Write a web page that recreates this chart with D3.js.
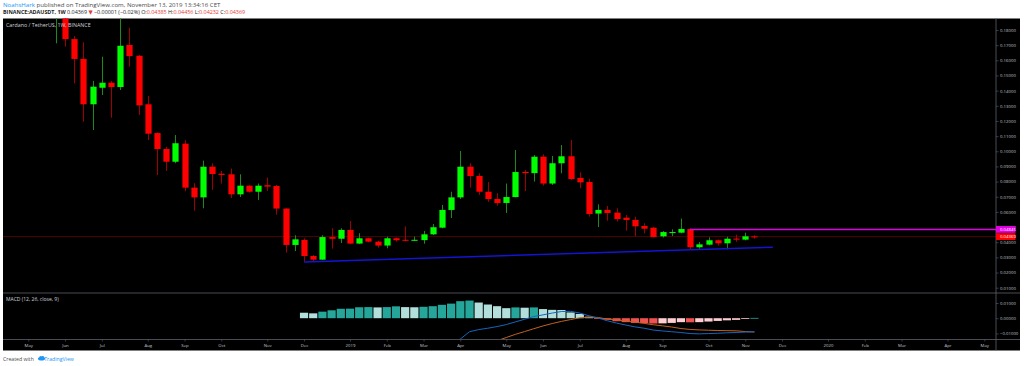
<!DOCTYPE html>
<html><head><meta charset="utf-8">
<script src="https://cdn.jsdelivr.net/npm/d3@7/dist/d3.min.js"></script>
<style>html,body{margin:0;padding:0;background:#fff;}svg{display:block;}</style>
</head><body>
<script>
// ---------- DATA ----------
const weeks = ["2018-04-16","2018-04-23","2018-04-30","2018-05-07","2018-05-14","2018-05-21","2018-05-28","2018-06-04","2018-06-11","2018-06-18","2018-06-25","2018-07-02","2018-07-09","2018-07-16","2018-07-23","2018-07-30","2018-08-06","2018-08-13","2018-08-20","2018-08-27","2018-09-03","2018-09-10","2018-09-17","2018-09-24","2018-10-01","2018-10-08","2018-10-15","2018-10-22","2018-10-29","2018-11-05","2018-11-12","2018-11-19","2018-11-26","2018-12-03","2018-12-10","2018-12-17","2018-12-24","2018-12-31","2019-01-07","2019-01-14","2019-01-21","2019-01-28","2019-02-04","2019-02-11","2019-02-18","2019-02-25","2019-03-04","2019-03-11","2019-03-18","2019-03-25","2019-04-01","2019-04-08","2019-04-15","2019-04-22","2019-04-29","2019-05-06","2019-05-13","2019-05-20","2019-05-27","2019-06-03","2019-06-10","2019-06-17","2019-06-24","2019-07-01","2019-07-08","2019-07-15","2019-07-22","2019-07-29","2019-08-05","2019-08-12","2019-08-19","2019-08-26","2019-09-02","2019-09-09","2019-09-16","2019-09-23","2019-09-30","2019-10-07","2019-10-14","2019-10-21","2019-10-28","2019-11-04","2019-11-11"];
const open  = [0.2500,0.3400,0.3200,0.3400,0.2800,0.2400,0.2000,0.2260,0.1740,0.1609,0.1310,0.1419,0.1452,0.1424,0.1701,0.1630,0.1310,0.1120,0.1015,0.0931,0.1050,0.0760,0.0696,0.0898,0.0852,0.0848,0.0716,0.0773,0.0733,0.0776,0.0771,0.0622,0.0382,0.0415,0.0309,0.0285,0.0434,0.0423,0.0481,0.0391,0.0426,0.0404,0.0378,0.0426,0.0416,0.0411,0.0414,0.0452,0.0496,0.0613,0.0696,0.0898,0.0837,0.0733,0.0685,0.0659,0.0698,0.0864,0.0856,0.0964,0.0787,0.0921,0.0967,0.0824,0.0797,0.0589,0.0613,0.0595,0.0562,0.0547,0.0507,0.0496,0.0439,0.0465,0.0463,0.0487,0.0367,0.0384,0.0413,0.0393,0.0424,0.0417,0.04385];
const high  = [0.3600,0.3800,0.3900,0.3500,0.2900,0.2500,0.2450,0.2300,0.1760,0.1719,0.1464,0.1624,0.1464,0.1900,0.1815,0.1635,0.1365,0.1125,0.1030,0.1107,0.1074,0.0789,0.0938,0.0921,0.0870,0.0886,0.0848,0.0776,0.0787,0.0826,0.0778,0.0625,0.0446,0.0426,0.0316,0.0446,0.0492,0.0492,0.0540,0.0459,0.0429,0.0410,0.0437,0.0430,0.0505,0.0437,0.0474,0.0520,0.0646,0.0733,0.1002,0.0921,0.0855,0.0797,0.0723,0.0787,0.1008,0.0877,0.0975,0.0980,0.0969,0.1041,0.1074,0.0861,0.0819,0.0650,0.0639,0.0624,0.0580,0.0568,0.0525,0.0501,0.0474,0.0485,0.0556,0.0492,0.0401,0.0432,0.0418,0.0436,0.0450,0.0463,0.04456];
const low   = [0.2400,0.2900,0.3000,0.2700,0.2300,0.1950,0.1712,0.1690,0.1448,0.1195,0.1140,0.1371,0.1221,0.1404,0.1558,0.1240,0.1074,0.0844,0.0870,0.0921,0.0736,0.0608,0.0624,0.0745,0.0787,0.0692,0.0698,0.0728,0.0679,0.0738,0.0582,0.0331,0.0342,0.0272,0.0272,0.0283,0.0358,0.0395,0.0388,0.0388,0.0400,0.0364,0.0360,0.0404,0.0406,0.0409,0.0390,0.0448,0.0492,0.0560,0.0685,0.0760,0.0712,0.0667,0.0641,0.0593,0.0696,0.0738,0.0800,0.0773,0.0778,0.0855,0.0811,0.0756,0.0569,0.0500,0.0542,0.0536,0.0476,0.0439,0.0459,0.0431,0.0431,0.0441,0.0459,0.0353,0.0357,0.0380,0.0377,0.0353,0.0402,0.0413,0.04232];
const close = [0.3400,0.3200,0.3400,0.2800,0.2400,0.2000,0.2260,0.1740,0.1609,0.1310,0.1426,0.1452,0.1424,0.1696,0.1628,0.1303,0.1116,0.1015,0.0931,0.1053,0.0760,0.0696,0.0898,0.0850,0.0844,0.0716,0.0773,0.0733,0.0773,0.0767,0.0622,0.0382,0.0419,0.0309,0.0285,0.0434,0.0423,0.0481,0.0391,0.0426,0.0404,0.0378,0.0426,0.0413,0.0410,0.0416,0.0452,0.0499,0.0613,0.0696,0.0898,0.0837,0.0733,0.0685,0.0659,0.0698,0.0863,0.0856,0.0964,0.0787,0.0921,0.0967,0.0817,0.0795,0.0586,0.0613,0.0593,0.0553,0.0547,0.0505,0.0489,0.0434,0.0467,0.0467,0.0487,0.0367,0.0386,0.0413,0.0393,0.0423,0.0417,0.0439,0.04369];

// MACD (12, 26, close, 9) from week of 2018-12-03 onward
const macdStart = "2018-12-03";
const macdLine = [-0.0300,-0.0290,-0.0275,-0.0262,-0.0250,-0.0240,-0.0232,-0.0225,-0.0222,-0.0218,-0.0215,-0.0212,-0.0210,-0.0206,-0.0198,-0.0182,-0.0164,-0.0137,-0.0089,-0.0075,-0.0066,-0.0055,-0.0042,-0.0024,-0.0007,0.0011,0.0022,0.0034,0.0044,0.0045,0.0034,0.0016,0.0001,-0.0017,-0.0032,-0.0045,-0.0057,-0.0066,-0.0078,-0.0084,-0.0089,-0.0094,-0.0101,-0.0103,-0.0101,-0.0099,-0.0096,-0.0094,-0.0091,-0.0089];
const signalLine = [-0.0336,-0.0322,-0.0318,-0.0314,-0.0312,-0.0303,-0.0300,-0.0295,-0.0293,-0.0291,-0.0290,-0.0285,-0.0282,-0.0280,-0.0275,-0.0268,-0.0258,-0.0240,-0.0215,-0.0190,-0.0168,-0.0148,-0.0127,-0.0106,-0.0088,-0.0069,-0.0051,-0.0035,-0.0021,-0.0009,0.0003,0.0006,0.0005,-0.0006,-0.0012,-0.0019,-0.0026,-0.0034,-0.0043,-0.0050,-0.0058,-0.0068,-0.0074,-0.0077,-0.0079,-0.0081,-0.0082,-0.0083,-0.0088,-0.0091];
const histogram = [0.0036,0.0032,0.0043,0.0052,0.0062,0.0063,0.0072,0.0073,0.0071,0.0073,0.0078,0.0073,0.0072,0.0075,0.0079,0.0088,0.0096,0.0112,0.0116,0.0103,0.0090,0.0079,0.0066,0.0071,0.0069,0.0071,0.0060,0.0055,0.0054,0.0038,0.0028,0.0010,-0.0005,-0.0010,-0.0020,-0.0026,-0.0031,-0.0032,-0.0035,-0.0034,-0.0031,-0.0026,-0.0027,-0.0026,-0.0022,-0.0018,-0.0014,-0.0011,-0.0004,0.0002];

// Drawings
const trendLine = [{date:"2018-12-03", price:0.0270},{date:"2019-11-25", price:0.0367}];
const levelLine = {date:"2019-09-23", price:0.04845};
const lastPrice = 0.04369;

// Axis ticks
const priceTicks = [0.18,0.17,0.16,0.15,0.14,0.13,0.12,0.11,0.10,0.09,0.08,0.07,0.06,0.05,0.04,0.03,0.02,0.01];
const macdTicks = [0.01,0,-0.01];
const timeTickDates = ["2018-05-07","2018-06-04","2018-07-02","2018-08-06","2018-09-03","2018-10-01","2018-11-05","2018-12-03","2019-01-07","2019-02-04","2019-03-04","2019-04-01","2019-05-06","2019-06-03","2019-07-01","2019-08-05","2019-09-02","2019-10-07","2019-11-04","2019-12-02","2020-01-06","2020-02-03","2020-03-02","2020-04-06","2020-05-04"];
const timeTickLabels = ["May","Jun","Jul","Aug","Sep","Oct","Nov","Dec","2019","Feb","Mar","Apr","May","Jun","Jul","Aug","Sep","Oct","Nov","Dec","2020","Feb","Mar","Apr","May"];

// ---------- LAYOUT ----------
const W = 1024, H = 366;
const L = 3, R = 1020, AX = 996;
const TOP = 18.5, SEP1 = 293, SEP2 = 339.5, BOT = 350.5;
const FONT = "'Open Sans', 'DejaVu Sans', sans-serif";
const axisCol = "#c3c6ce", lineCol = "#5d606b";

const parse = d3.utcParse("%Y-%m-%d");
const x = d3.scaleUtc().domain([parse("2019-01-07"), parse("2020-01-06")]).range([350, 828]);
const y = d3.scaleLinear().domain([0.01, 0.18]).range([287.7, 30]);
const ym = d3.scaleLinear().domain([-0.01, 0.01]).range([333.4, 303]);

const svg = d3.select("body").append("svg").attr("width", W).attr("height", H).attr("font-family", FONT);
svg.append("rect").attr("width", W).attr("height", H).attr("fill", "#fff");

// header
const h1 = svg.append("text").attr("x", 3).attr("y", 7.2).attr("font-size", 6.1).attr("fill", "#4a4a4a");
h1.append("tspan").attr("fill", "#2196f3").text("NoahsHark");
h1.append("tspan").text(" published on TradingView.com, November 13, 2019 13:34:16 CET");
const h2 = svg.append("text").attr("x", 3).attr("y", 14.4).attr("font-size", 5.4).attr("fill", "#222");
h2.append("tspan").attr("font-weight", "bold").text("BINANCE:ADAUSDT, 1W");
h2.append("tspan").text(" 0.04369 ");
h2.append("tspan").attr("fill", "#e53935").text("▼");
h2.append("tspan").text(" −0.00001 (−0.02%) O:");
h2.append("tspan").attr("fill", "#e53935").text("0.04385");
h2.append("tspan").text(" H:");
h2.append("tspan").attr("fill", "#e53935").text("0.04456");
h2.append("tspan").text(" L:");
h2.append("tspan").attr("fill", "#e53935").text("0.04232");
h2.append("tspan").text(" C:");
h2.append("tspan").attr("fill", "#e53935").text("0.04369");

// black chart area
svg.append("rect").attr("x", L).attr("y", TOP).attr("width", R - L).attr("height", BOT - TOP).attr("fill", "#000");

const defs = svg.append("defs");
defs.append("clipPath").attr("id", "cp").append("rect").attr("x", L).attr("y", TOP).attr("width", AX - L).attr("height", SEP1 - TOP);
defs.append("clipPath").attr("id", "cm").append("rect").attr("x", L).attr("y", SEP1 + 0.5).attr("width", AX - L).attr("height", SEP2 - SEP1 - 1);

// ---------- PRICE PANE ----------
const gp = svg.append("g").attr("clip-path", "url(#cp)");
// last price line
gp.append("line").attr("x1", L).attr("x2", AX).attr("y1", y(lastPrice)).attr("y2", y(lastPrice))
  .attr("stroke", "#4d0505").attr("stroke-width", 1);

const candles = weeks.map((d, i) => ({date: parse(d), o: open[i], h: high[i], l: low[i], c: close[i]}));
const bw = 6.2;
const cg = gp.selectAll("g.c").data(candles).join("g");
cg.append("line")
  .attr("x1", d => Math.round(x(d.date)) + 0.5).attr("x2", d => Math.round(x(d.date)) + 0.5)
  .attr("y1", d => y(d.h)).attr("y2", d => y(d.l))
  .attr("stroke", d => d.c >= d.o ? "#1d8a1d" : "#a00000").attr("stroke-width", 1);
cg.append("rect")
  .attr("x", d => Math.round(x(d.date)) + 0.5 - bw / 2)
  .attr("width", bw)
  .attr("y", d => y(Math.max(d.o, d.c)))
  .attr("height", d => Math.max(1, Math.abs(y(d.o) - y(d.c))))
  .attr("fill", d => d.c >= d.o ? "#00ff00" : "#ff0000");

// trend line
gp.append("line")
  .attr("x1", x(parse(trendLine[0].date))).attr("y1", y(trendLine[0].price))
  .attr("x2", x(parse(trendLine[1].date))).attr("y2", y(trendLine[1].price))
  .attr("stroke", "#1414d2").attr("stroke-width", 1.4);
// level line
gp.append("line")
  .attr("x1", x(parse(levelLine.date))).attr("x2", AX)
  .attr("y1", y(levelLine.price)).attr("y2", y(levelLine.price))
  .attr("stroke", "#e000e0").attr("stroke-width", 1.5);

svg.append("text").attr("x", 6).attr("y", 26.8).attr("font-size", 5.3).attr("fill", "#d1d4dc")
  .text("Cardano / TetherUS, 1W, BINANCE");

// ---------- MACD PANE ----------
const gm = svg.append("g").attr("clip-path", "url(#cm)");
const ms = parse(macdStart);
const mDates = histogram.map((v, i) => d3.utcWeek.offset(ms, i));
gm.selectAll("rect.h").data(histogram).join("rect")
  .attr("x", (v, i) => x(mDates[i]) - 4.1)
  .attr("width", 8.2)
  .attr("y", v => Math.min(ym(v), ym(0)))
  .attr("height", v => Math.max(0.8, Math.abs(ym(v) - ym(0))))
  .attr("fill", (v, i) => {
    const p = i > 0 ? histogram[i - 1] : v + 1;
    if (v >= 0) return v > p ? "#26a69a" : "#b2dfdb";
    return v < p ? "#ef5350" : "#ffcdd2";
  });
const lineGen = d3.line().x((v, i) => x(mDates[i])).y(v => ym(v));
gm.append("path").datum(signalLine).attr("d", lineGen).attr("fill", "none").attr("stroke", "#c2611e").attr("stroke-width", 1);
gm.append("path").datum(macdLine).attr("d", lineGen).attr("fill", "none").attr("stroke", "#1565c0").attr("stroke-width", 1);

svg.append("text").attr("x", 6).attr("y", 300.5).attr("font-size", 5).attr("fill", "#d1d4dc")
  .text("MACD (12, 26, close, 9)");

// ---------- SEPARATORS ----------
svg.append("line").attr("x1", L).attr("x2", R).attr("y1", SEP1).attr("y2", SEP1).attr("stroke", lineCol).attr("stroke-width", 0.8);
svg.append("line").attr("x1", L).attr("x2", R).attr("y1", SEP2).attr("y2", SEP2).attr("stroke", lineCol).attr("stroke-width", 0.8);
svg.append("line").attr("x1", AX).attr("x2", AX).attr("y1", TOP).attr("y2", BOT).attr("stroke", lineCol).attr("stroke-width", 0.8);

// ---------- AXES ----------
const fmt = v => (v < 0 ? "−" : "") + Math.abs(v).toFixed(5);
const pa = svg.append("g").attr("transform", `translate(${AX},0)`)
  .call(d3.axisRight(y).tickValues(priceTicks).tickSize(2.5).tickPadding(1.5).tickFormat(fmt));
const ma = svg.append("g").attr("transform", `translate(${AX},0)`)
  .call(d3.axisRight(ym).tickValues(macdTicks).tickSize(2.5).tickPadding(1.5).tickFormat(fmt));
const ta = svg.append("g").attr("transform", `translate(0,${SEP2})`)
  .call(d3.axisBottom(x).tickValues(timeTickDates.map(parse)).tickSize(2).tickPadding(2.2)
    .tickFormat((d, i) => timeTickLabels[i]));
[pa, ma, ta].forEach(g => {
  g.select(".domain").remove();
  g.selectAll(".tick line").attr("stroke", lineCol).attr("stroke-width", 0.6);
  g.selectAll(".tick text").attr("fill", axisCol).attr("font-size", 4.3).attr("font-family", FONT);
});

// price labels
function priceLabel(v, col) {
  const g = svg.append("g");
  g.append("rect").attr("x", AX).attr("y", y(v) - 3.4).attr("width", 19.5).attr("height", 6.8).attr("fill", col);
  g.append("text").attr("x", AX + 4).attr("y", y(v)).attr("dy", "0.35em").attr("font-size", 4.3).attr("fill", "#fff").text(v.toFixed(5));
}
priceLabel(levelLine.price, "#e100e1");
priceLabel(lastPrice, "#ff0000");

// footer
const ft = svg.append("text").attr("x", 3).attr("y", 360.5).attr("font-size", 5.2).attr("fill", "#4a4a4a");
ft.append("tspan").text("Created with ");
ft.append("tspan").attr("fill", "#2196f3").attr("dx", 9).text("TradingView");
const cloud = svg.append("g").attr("transform", "translate(38,356)").attr("fill", "#2196f3");
cloud.append("ellipse").attr("cx", 3.5).attr("cy", 2.8).attr("rx", 3.6).attr("ry", 1.8);
cloud.append("circle").attr("cx", 2.8).attr("cy", 1.6).attr("r", 1.6);
cloud.append("circle").attr("cx", 4.8).attr("cy", 1.4).attr("r", 1.3);
</script>
</body></html>
